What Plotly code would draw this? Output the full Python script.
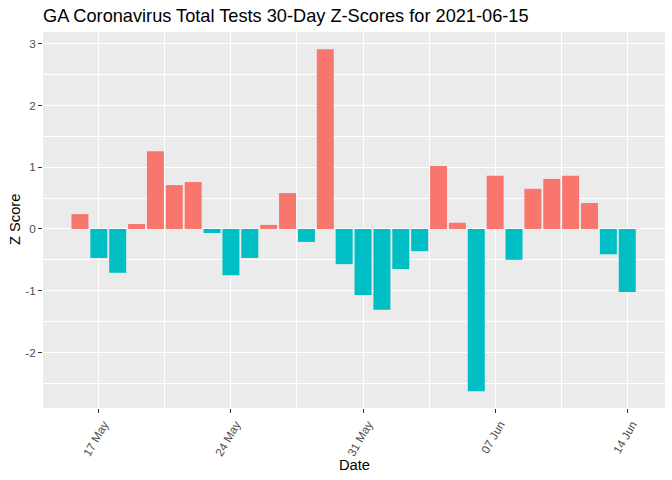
import plotly.graph_objects as go
import pandas as pd

dates = pd.date_range("2021-05-16", "2021-06-14", freq="D")
z_scores = [0.24, -0.47, -0.71, 0.08, 1.26, 0.71, 0.76, -0.065, -0.75, -0.47,
            0.065, 0.58, -0.21, 2.91, -0.57, -1.07, -1.31, -0.65, -0.36, 1.02,
            0.10, -2.63, 0.86, -0.50, 0.65, 0.81, 0.86, 0.42, -0.41, -1.02]
tick_dates = ["2021-05-17", "2021-05-24", "2021-05-31", "2021-06-07", "2021-06-14"]
tick_labels = ["17 May", "24 May", "31 May", "07 Jun", "14 Jun"]
y_ticks = [-2, -1, 0, 1, 2, 3]
y_labels = ["-2", "-1", "0", "1", "2", "3"]

POS, NEG = "#F8766D", "#00BFC4"
colors = [POS if v > 0 else NEG for v in z_scores]

fig = go.Figure(go.Bar(x=dates, y=z_scores, marker=dict(color=colors, line=dict(width=0)),
                       hoverinfo="x+y"))

font = "Liberation Sans, Arial, sans-serif"
L, R, T, B = 43, 7, 32, 72
fig.update_layout(
    width=672, height=480,
    margin=dict(l=L, r=R, t=T, b=B, autoexpand=False),
    paper_bgcolor="white", plot_bgcolor="#EBEBEB",
    bargap=0.1, showlegend=False,
    font=dict(family=font, color="#4D4D4D"),
    title=dict(text="GA Coronavirus Total Tests 30-Day Z-Scores for 2021-06-15",
               x=43/672, xanchor="left", y=1-16/480, yanchor="middle",
               font=dict(size=18.2, color="black", family=font)),
    annotations=[
        dict(text="Date", xref="paper", yref="paper", x=0.5, y=-(465-408)/(480-T-B),
             xanchor="center", yanchor="middle", showarrow=False,
             font=dict(size=14.7, color="black", family=font)),
        dict(text="Z Score", xref="paper", yref="paper", x=-(43-15)/(672-L-R), y=0.5,
             xanchor="center", yanchor="middle", showarrow=False, textangle=-90,
             font=dict(size=14.7, color="black", family=font)),
    ],
)
fig.update_xaxes(
    automargin=False,
    range=["2021-05-14 01:00", "2021-06-16 00:00"],
    tickvals=tick_dates, ticktext=tick_labels, tickangle=-60,
    ticklabelshift=5,
    tickfont=dict(size=11.7, color="#4D4D4D"),
    ticks="outside", ticklen=4, tickcolor="#333333", tickwidth=1,
    showgrid=True, gridcolor="white", gridwidth=1.1,
    minor=dict(tick0="2021-05-20 12:00", dtick=7*86400000, showgrid=True,
               gridcolor="white", gridwidth=0.55, ticks=""),
    zeroline=False, showline=False,
)
fig.update_yaxes(
    automargin=False,
    range=[-2.90, 3.19],
    tickvals=y_ticks, ticktext=y_labels,
    tickfont=dict(size=11.7, color="#4D4D4D"),
    ticks="outside", ticklen=4, tickcolor="#333333", tickwidth=1,
    showgrid=True, gridcolor="white", gridwidth=1.1,
    minor=dict(tick0=0.5, dtick=1, showgrid=True, gridcolor="white", gridwidth=0.55, ticks=""),
    zeroline=False, showline=False,
)
fig.write_html("out.html", config={"displayModeBar": False},
               post_script="document.body.style.margin='0';document.body.style.overflow='hidden';")
